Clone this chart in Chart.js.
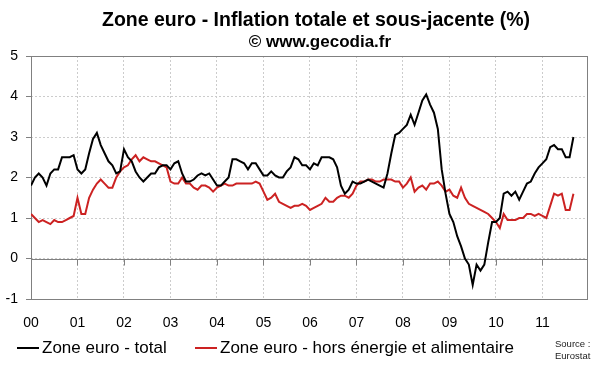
<!DOCTYPE html>
<html>
<head>
<meta charset="utf-8">
<script src="https://cdn.jsdelivr.net/npm/chart.js@4.4.0/dist/chart.umd.min.js"></script>
<style>
body { margin: 0; background: #fff; font-family: Arial, "Liberation Sans", sans-serif; }
#wrap { position: relative; width: 600px; height: 372px; overflow: hidden; }
.ttl { position: absolute; left: 0; text-align: center; font-weight: bold; color: #000; white-space: nowrap; }
.leg { position: absolute; top: 338px; font-size: 17px; line-height: 20px; color: #000; white-space: nowrap; }
.leg span { position: absolute; left: -25px; top: 9px; width: 22px; height: 2px; }
.src { position: absolute; left: 555px; font-size: 9.5px; line-height: 10px; color: #222; }
</style>
</head>
<body>
<div id="wrap">
  <canvas id="myChart" width="600" height="372"></canvas>
  <div class="ttl" style="top:10px;width:632px;font-size:19.5px;line-height:19.5px">Zone euro - Inflation totale et sous-jacente (%)</div>
  <div class="ttl" style="top:33px;width:640px;font-size:17px;line-height:17px">© www.gecodia.fr</div>
  <div class="leg" style="left:42px"><span style="background:#000"></span>Zone euro - total</div>
  <div class="leg" style="left:220px"><span style="background:#cc2222"></span>Zone euro - hors énergie et alimentaire</div>
  <div class="src" style="top:339px">Source :</div>
  <div class="src" style="top:351px">Eurostat</div>
</div>
<script>
// ticks of the x axis : one per year, jan 2000 -> 2011
const yearLabels = ["00", "01", "02", "03", "04", "05", "06", "07", "08", "09", "10", "11"];

// monthly annual rates, jan 2000 -> sep 2011
const total = [
	1.8, 2.0, 2.1, 2.0, 1.8, 2.1, 2.2, 2.2, 2.5, 2.5, 2.5, 2.55,
	2.2, 2.1, 2.2, 2.6, 2.95, 3.1, 2.8, 2.6, 2.4, 2.3, 2.1, 2.15,
	2.7, 2.5, 2.4, 2.15, 2.0, 1.9, 2.0, 2.1, 2.1, 2.25, 2.3, 2.3,
	2.2, 2.35, 2.4, 2.1, 1.9, 1.9, 1.95, 2.05, 2.1, 2.05, 2.1, 1.95,
	1.8, 1.8, 1.9, 2.0, 2.45, 2.45, 2.4, 2.35, 2.2, 2.35, 2.35, 2.2,
	2.05, 2.05, 2.15, 2.05, 2.0, 2.0, 2.15, 2.25, 2.5, 2.45, 2.3, 2.3,
	2.2, 2.35, 2.3, 2.5, 2.5, 2.5, 2.45, 2.25, 1.8, 1.6, 1.7, 1.9,
	1.85, 1.85, 1.9, 1.95, 1.9, 1.85, 1.8, 1.75, 2.1, 2.6, 3.05, 3.1,
	3.2, 3.3, 3.55, 3.3, 3.6, 3.9, 4.05, 3.8, 3.6, 3.2, 2.2, 1.6,
	1.1, 0.9, 0.55, 0.3, 0.0, -0.15, -0.65, -0.15, -0.3, -0.15, 0.4, 0.9,
	0.9, 1.0, 1.6, 1.65, 1.55, 1.65, 1.45, 1.65, 1.85, 1.9, 2.1, 2.25,
	2.35, 2.45, 2.75, 2.8, 2.7, 2.7, 2.5, 2.5, 3.0
];
const core = [
	1.1, 1.0, 0.9, 0.95, 0.9, 0.85, 0.95, 0.9, 0.9, 0.95, 1.0, 1.05,
	1.5, 1.1, 1.1, 1.5, 1.7, 1.85, 1.95, 1.85, 1.75, 1.75, 2.0, 2.15,
	2.25, 2.3, 2.45, 2.55, 2.4, 2.5, 2.45, 2.4, 2.4, 2.35, 2.3, 2.25,
	1.9, 1.85, 1.85, 2.0, 1.85, 1.85, 1.75, 1.7, 1.8, 1.8, 1.75, 1.65,
	1.75, 1.8, 1.85, 1.8, 1.8, 1.85, 1.85, 1.85, 1.85, 1.85, 1.9, 1.85,
	1.65, 1.45, 1.5, 1.6, 1.4, 1.35, 1.3, 1.25, 1.3, 1.3, 1.35, 1.3,
	1.2, 1.25, 1.3, 1.35, 1.5, 1.4, 1.4, 1.5, 1.55, 1.55, 1.5, 1.6,
	1.8, 1.9, 1.9, 1.95, 1.95, 1.9, 1.9, 1.95, 1.95, 1.95, 1.9, 1.9,
	1.75, 1.85, 2.0, 1.65, 1.75, 1.8, 1.7, 1.85, 1.85, 1.9, 1.8, 1.65,
	1.7, 1.55, 1.5, 1.75, 1.5, 1.35, 1.3, 1.25, 1.2, 1.15, 1.1, 1.0,
	0.9, 0.75, 1.1, 0.95, 0.95, 0.95, 1.0, 1.0, 1.1, 1.1, 1.05, 1.1,
	1.05, 1.0, 1.3, 1.6, 1.55, 1.6, 1.2, 1.2, 1.6
];

function toPoints(arr) {
	return arr.map(function(v, i) { return { x: i, y: v }; });
}

// box around the plot + zero line with its year marks
const frame = {
	id: "frame",
	beforeDatasetsDraw(chart) {
		const c = chart.ctx, a = chart.chartArea;
		const xs = chart.scales.x, ys = chart.scales.y;
		const y0 = Math.round(ys.getPixelForValue(0)) + 0.5;
		c.save();
		c.setLineDash([]);
		c.strokeStyle = "#808080";
		c.lineWidth = 1;
		c.beginPath();
		c.moveTo(a.left, y0);
		c.lineTo(a.right, y0);
		for (let i = 1; i < yearLabels.length; i++) {
			const px = Math.round(xs.getPixelForValue(i * 12)) + 0.5;
			c.moveTo(px, y0);
			c.lineTo(px, y0 + 6);
		}
		c.stroke();
		c.strokeRect(Math.round(a.left) + 0.5, Math.round(a.top) + 0.5, Math.round(a.right - a.left), Math.round(a.bottom - a.top));
		c.restore();
	}
};

const ctx = document.getElementById("myChart").getContext("2d");
const myChart = new Chart(ctx, {
	type: "line",
	data: {
		datasets: [{
			label: "Zone euro - total",
			data: toPoints(total),
			borderColor: "#000000",
			borderWidth: 2,
			pointRadius: 0,
			tension: 0
		}, {
			label: "Zone euro - hors énergie et alimentaire",
			data: toPoints(core),
			borderColor: "#cc2222",
			borderWidth: 2,
			pointRadius: 0,
			tension: 0
		}]
	},
	options: {
		responsive: false,
		animation: false,
		layout: { padding: { left: 0, right: 13, top: 56, bottom: 33 } },
		plugins: {
			legend: { display: false },
			tooltip: { enabled: false }
		},
		scales: {
			x: {
				type: "linear",
				min: 0,
				max: 143.5,
				afterFit: function(axis) { axis.height = 40; },
				afterBuildTicks: function(axis) {
					axis.ticks = yearLabels.map(function(l, i) { return { value: i * 12 }; });
				},
				ticks: {
					padding: 16,
					maxRotation: 0,
					color: "#000",
					font: { family: "Arial, 'Liberation Sans'", size: 14 },
					callback: function(value) { return yearLabels[value / 12]; }
				},
				grid: { color: "#cccccc", drawTicks: false },
				border: { display: false, dash: [2, 2] }
			},
			y: {
				min: -1,
				max: 5,
				afterFit: function(axis) { axis.width = 31; },
				ticks: {
					stepSize: 1,
					padding: 8,
					color: "#000",
					font: { family: "Arial, 'Liberation Sans'", size: 14 }
				},
				grid: { color: "#cccccc", tickColor: "#808080", tickLength: 5, tickBorderDash: [] },
				border: { display: false, dash: [2, 2] }
			}
		}
	},
	plugins: [frame]
});
</script>
</body>
</html>
